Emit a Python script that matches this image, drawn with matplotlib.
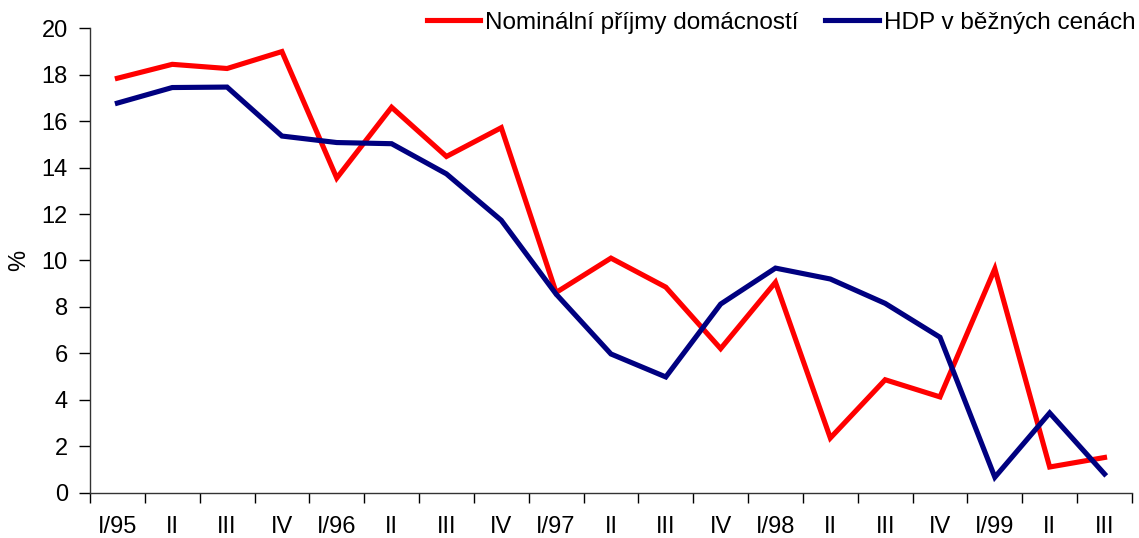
import matplotlib
matplotlib.use("Agg")
import matplotlib.pyplot as plt
import numpy as np

quarters = ["I/95", "II", "III", "IV", "I/96", "II", "III", "IV",
            "I/97", "II", "III", "IV", "I/98", "II", "III", "IV",
            "I/99", "II", "III"]
prijmy = [17.85, 18.45, 18.27, 19.0, 13.55, 16.6, 14.48, 15.72,
          8.62, 10.1, 8.85, 6.2, 9.06, 2.35, 4.86, 4.12,
          9.64, 1.1, 1.51]
hdp = [16.78, 17.45, 17.47, 15.36, 15.08, 15.03, 13.73, 11.73,
       8.55, 5.97, 4.98, 8.12, 9.67, 9.2, 8.15, 6.69,
       0.66, 3.43, 0.8]

plt.rcParams["font.family"] = ["Liberation Sans", "DejaVu Sans"]
FS = 17

fig = plt.figure(figsize=(11.39, 5.38), dpi=100)
ax = fig.add_axes([0.079, 0.0845, 0.9148, 0.8628])

x = np.arange(len(quarters))
ax.plot(x, prijmy, color="#ff0000", lw=3.7, label="Nominální příjmy domácností",
        solid_joinstyle="miter")
ax.plot(x, hdp, color="#000080", lw=3.7, label="HDP v běžných cenách",
        solid_joinstyle="miter")

ax.set_xlim(-0.5, len(quarters) - 0.5)
ax.set_ylim(0, 20)
ax.set_yticks(np.arange(0, 21, 2))
ax.tick_params(axis="y", direction="out", length=8, width=1, labelsize=FS, pad=8)

# category axis: ticks between quarters, labels centred on each quarter
ax.set_xticks(np.arange(-0.5, len(quarters), 1.0))
ax.set_xticklabels([])
ax.tick_params(axis="x", which="major", direction="out", length=7, width=1)
ax.set_xticks(x, minor=True)
ax.set_xticklabels(quarters, minor=True)
ax.tick_params(axis="x", which="minor", length=0, labelsize=FS, pad=17)

for side in ("top", "right"):
    ax.spines[side].set_visible(False)
for side in ("left", "bottom"):
    ax.spines[side].set_linewidth(1)
    ax.spines[side].set_color("#333333")

ax.set_ylabel("%", fontsize=FS, labelpad=8)

fig.legend(loc="upper right", bbox_to_anchor=(1.0, 0.985), ncol=2, frameon=False,
           fontsize=17.5, handlelength=2.2, handletextpad=0.2, columnspacing=1.1,
           borderaxespad=0.05, borderpad=0.1)

fig.savefig("out.png", dpi=100)
